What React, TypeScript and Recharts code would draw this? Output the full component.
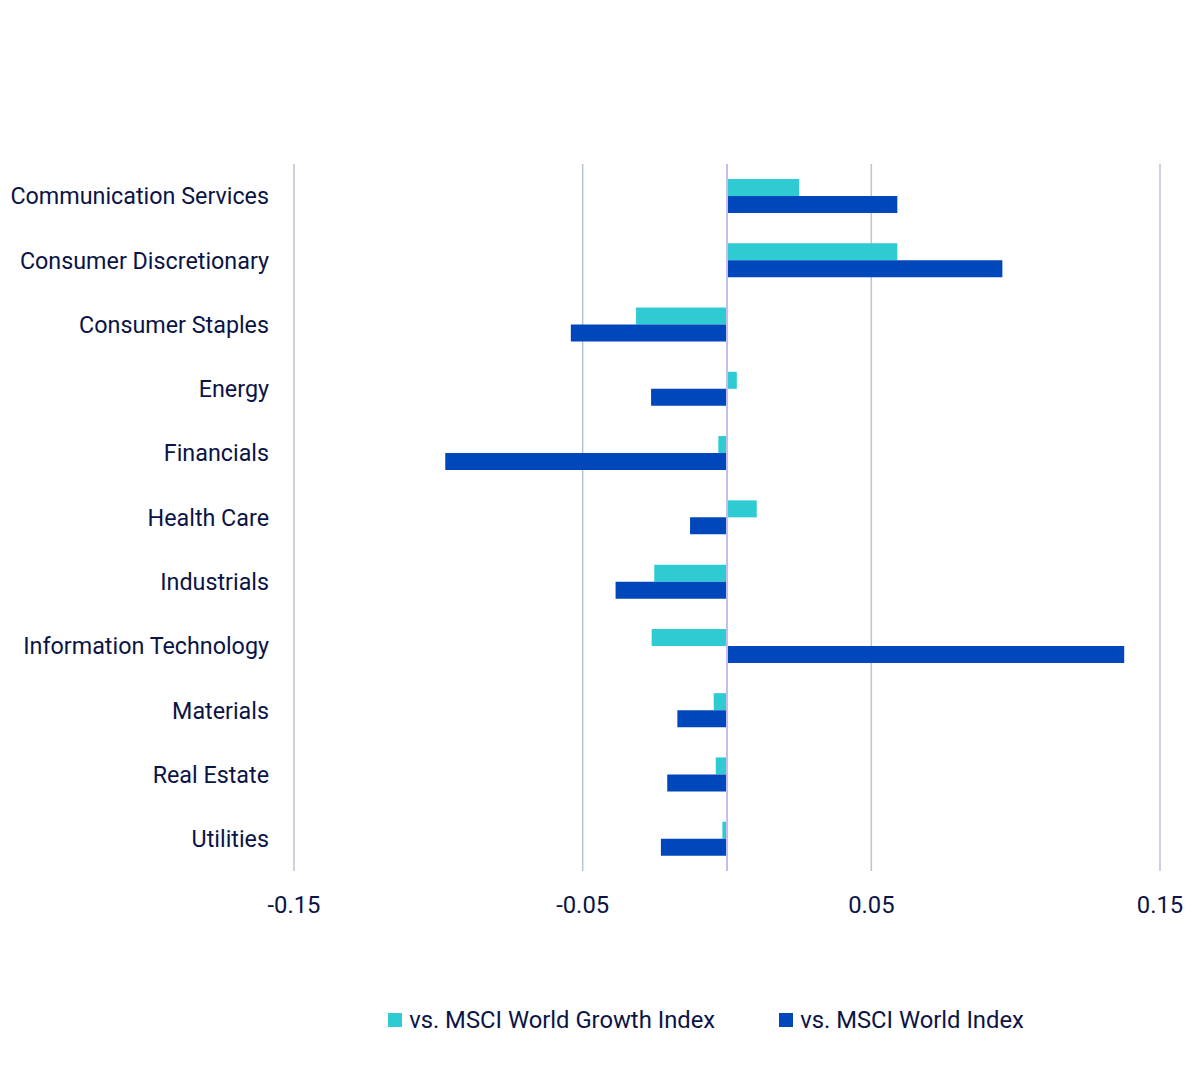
import { Bar, BarChart, CartesianGrid, Legend, ReferenceLine, XAxis, YAxis } from 'recharts'

const sectors = [
  'Communication Services',
  'Consumer Discretionary',
  'Consumer Staples',
  'Energy',
  'Financials',
  'Health Care',
  'Industrials',
  'Information Technology',
  'Materials',
  'Real Estate',
  'Utilities',
]

const vsGrowth = [0.025, 0.059, -0.0315, 0.0034, -0.003, 0.0103, -0.0252, -0.0261, -0.0046, -0.0039, -0.0016]
const vsWorld = [0.059, 0.0954, -0.0541, -0.0263, -0.0976, -0.0128, -0.0386, 0.1376, -0.0172, -0.0207, -0.0229]

const xTicks = [-0.15, -0.05, 0.05, 0.15]

const seriesNames = ['vs. MSCI World Growth Index', 'vs. MSCI World Index']
const colors = ['#2ecbd3', '#0047bb']

const data = sectors.map((name, i) => ({ name, growth: vsGrowth[i], world: vsWorld[i] }))

const textColor = '#0b1446'
const font = 'Roboto, "Noto Sans", sans-serif'

const LegendContent = () => (
  <div
    style={{
      display: 'flex',
      justifyContent: 'center',
      gap: 64,
      lineHeight: '30px',
      fontFamily: font,
      fontSize: 23.8,
      color: textColor,
      paddingLeft: 212,
    }}
  >
    {seriesNames.map((s, i) => (
      <div key={s} style={{ display: 'flex', alignItems: 'center' }}>
        <span style={{ width: 14, height: 14, background: colors[i], marginRight: 7, display: 'inline-block' }} />
        <span>{s}</span>
      </div>
    ))}
  </div>
)

export default function App() {
  return (
    <div style={{ position: 'relative', left: -8, width: 1200 }}>
      <BarChart
        width={1200}
        height={1061}
        data={data}
        layout="vertical"
        margin={{ top: 156, right: 40, bottom: 128, left: 0 }}
        barSize={17}
        barGap={0}
        style={{ fontFamily: font, overflow: 'visible' }}
      >
        <CartesianGrid horizontal={false} stroke="#b8c4d2" strokeWidth={1.5} />
        <XAxis
          type="number"
          domain={[-0.15, 0.15]}
          ticks={xTicks}
          axisLine={false}
          tickLine={false}
          tickSize={0}
          tickMargin={25}
          height={40}
          tick={{ fill: textColor, fontSize: 23.8 }}
        />
        <YAxis
          type="category"
          dataKey="name"
          width={294}
          axisLine={false}
          tickLine={false}
          tickSize={0}
          tickMargin={25}
          interval={0}
          tick={{ fill: textColor, fontSize: 23.3 }}
        />
        <ReferenceLine x={0} stroke="#c5bcf2" strokeWidth={2} />
        <Bar dataKey="growth" name={seriesNames[0]} fill={colors[0]} isAnimationActive={false} />
        <Bar dataKey="world" name={seriesNames[1]} fill={colors[1]} isAnimationActive={false} />
        <Legend content={<LegendContent />} wrapperStyle={{ top: 997, left: 8, width: 1184, height: 30 }} />
      </BarChart>
    </div>
  )
}
